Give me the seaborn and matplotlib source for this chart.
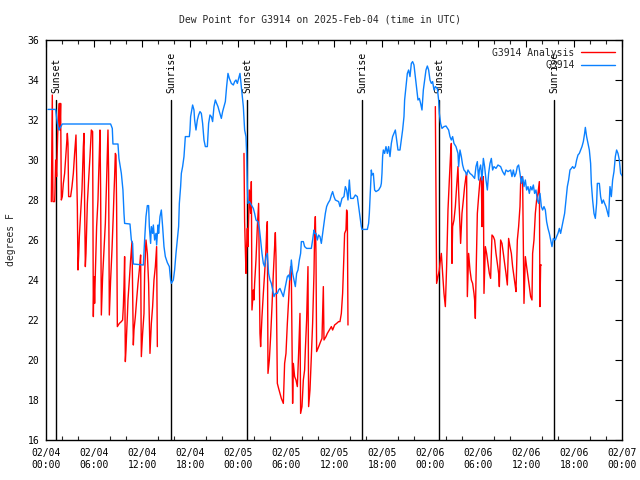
import numpy as np
import pandas as pd
import matplotlib
matplotlib.use("Agg")
import matplotlib.pyplot as plt
import seaborn as sns
from matplotlib.lines import Line2D

nan = float("nan")

# hours since 2025-02-04 00:00 UTC
obs_hours = [0.21, 1.17, 1.38, 1.58, 2.0, 8.04, 8.25, 8.33, 8.96, 9.08, 9.38, 9.58, 9.71, 9.79, 10.46, 10.63,
             10.79, 10.88, 12.13, 12.29, 12.46, 12.63, 12.79, 12.88, 13.04, 13.13, 13.29, 13.38, 13.54, 13.71,
             13.79, 13.96, 14.04, 14.21, 14.38, 14.54, 14.71, 14.88, 15.13, 15.38, 15.54, 15.63, 15.88, 16.04,
             16.21, 16.38, 16.54, 16.63, 16.79, 16.88, 17.04, 17.21, 17.38, 17.88, 17.96, 18.04, 18.29, 18.46,
             18.54, 18.71, 18.88, 19.04, 19.21, 19.38, 19.54, 19.71, 19.88, 20.13, 20.29, 20.46, 20.63, 20.79,
             20.96, 21.13, 21.29, 21.46, 21.63, 21.88, 22.04, 22.21, 22.38, 22.54, 22.71, 22.88, 23.13, 23.38,
             23.54, 23.71, 23.88, 24.04, 24.21, 24.38, 24.54, 24.63, 24.79, 24.96, 25.04, 25.13, 25.21, 25.38,
             25.63, 25.88, 26.04, 26.21, 26.46, 26.63, 26.79, 26.96, 27.13, 27.29, 27.46, 27.63, 27.79, 27.96,
             28.13, 28.29, 28.46, 28.63, 28.88, 29.04, 29.21, 29.46, 29.63, 29.79, 29.96, 30.13, 30.29, 30.46,
             30.63, 30.79, 30.96, 31.13, 31.21, 31.29, 31.46, 31.63, 31.79, 31.88, 32.13, 32.29, 32.54, 33.13,
             33.29, 33.46, 33.54, 33.71, 33.88, 34.04, 34.21, 34.38, 34.54, 34.71, 34.88, 35.04, 35.21, 35.46,
             35.63, 35.79, 35.96, 36.13, 36.54, 36.71, 36.96, 37.21, 37.38, 37.54, 37.71, 37.88, 38.04, 38.38,
             38.63, 38.88, 39.04, 39.21, 39.38, 39.46, 40.13, 40.29, 40.38, 40.46, 40.54, 40.63, 40.71, 40.88,
             41.04, 41.21, 41.54, 41.79, 41.88, 41.96, 42.04, 42.13, 42.29, 42.46, 42.63, 42.79, 42.96, 43.13,
             43.29, 43.46, 43.63, 43.79, 43.96, 44.21, 44.38, 44.54, 44.71, 44.79, 44.96, 45.13, 45.29, 45.46,
             45.63, 45.79, 45.96, 46.13, 46.29, 46.46, 46.63, 46.79, 46.96, 47.13, 47.29, 47.46, 47.63, 47.79,
             47.96, 48.13, 48.29, 48.46, 48.63, 48.88, 49.04, 49.13, 49.29, 49.46, 49.71, 49.96, 50.29, 50.46,
             50.63, 50.79, 50.96, 51.21, 51.46, 51.54, 51.71, 51.88, 52.04, 52.21, 52.38, 52.54, 52.71, 52.96,
             53.21, 53.54, 53.71, 53.88, 54.04, 54.13, 54.29, 54.46, 54.63, 54.79, 54.96, 55.13, 55.29, 55.46,
             55.63, 55.79, 55.96, 56.21, 56.46, 56.79, 57.04, 57.29, 57.46, 57.71, 58.04, 58.21, 58.38, 58.54,
             58.71, 58.88, 59.04, 59.21, 59.38, 59.54, 59.71, 59.88, 60.04, 60.21, 60.38, 60.54, 60.71, 60.88,
             61.04, 61.21, 61.38, 61.54, 61.71, 61.88, 62.04, 62.21, 62.38, 62.54, 62.71, 62.88, 63.04, 63.21,
             63.38, 63.63, 63.79, 63.96, 64.13, 64.29, 64.46, 64.63, 64.79, 64.96, 65.13, 65.29, 65.46, 65.63,
             65.79, 65.96, 66.13, 66.29, 66.46, 66.63, 66.79, 66.96, 67.13, 67.29, 67.38, 67.54, 67.71, 67.88,
             68.04, 68.13, 68.29, 68.46, 68.63, 68.79, 68.88, 69.13, 69.29, 69.46, 69.63, 69.79, 69.96, 70.13,
             70.29, 70.46, 70.63, 70.79, 70.96, 71.13, 71.29, 71.46, 71.63, 71.79, 72.0]
obs_dewpt = [32.53, 32.53, 31.83, 31.5, 31.8, 31.8, 31.58, 30.8, 30.8, 30.08, 29.33, 28.5, 27.33, 26.83, 26.8, 26.0,
             25.83, 24.8, 24.75, 26.0, 27.17, 27.72, 27.72, 26.67, 25.83, 26.67, 26.33, 26.75, 26.0, 26.33,
             25.75, 26.75, 26.33, 27.17, 27.5, 26.67, 25.67, 25.17, 24.87, 24.67, 24.0, 23.83, 24.0, 24.5,
             25.33, 26.0, 26.67, 27.83, 28.67, 29.33, 29.67, 30.17, 31.17, 31.17, 31.5, 32.17, 32.75, 32.5,
             32.0, 31.5, 32.0, 32.25, 32.42, 32.33, 31.83, 31.0, 30.67, 30.67, 31.83, 32.25, 32.17, 31.92,
             32.67, 33.0, 32.83, 32.67, 32.42, 32.08, 32.42, 32.67, 32.92, 33.67, 34.33, 34.08, 33.83, 33.75,
             33.92, 34.0, 33.83, 34.08, 34.33, 33.67, 33.0, 32.67, 31.5, 31.17, 30.33, 28.67, 27.83, 27.92,
             27.75, 27.58, 27.33, 27.0, 26.92, 26.58, 26.0, 25.33, 24.83, 24.67, 25.17, 25.33, 24.33, 24.0,
             23.83, 23.5, 23.17, 23.33, 23.33, 23.5, 23.58, 23.33, 23.17, 23.5, 23.83, 24.17, 24.25, 24.0,
             25.0, 24.33, 24.0, 23.67, 24.0, 24.33, 24.5, 25.0, 25.33, 25.92, 25.92, 25.67, 25.58, 25.58,
             26.0, 26.5, 26.33, 26.33, 26.0, 26.25, 26.17, 25.83, 26.33, 26.83, 27.33, 27.67, 27.83, 28.0,
             28.25, 28.42, 28.17, 28.0, 27.92, 27.67, 28.08, 28.17, 28.67, 28.5, 28.0, 29.0, 28.08, 28.08,
             28.25, 28.17, 27.67, 27.17, 26.67, 26.53, 26.53, 26.83, 27.33, 28.0, 28.67, 29.5, 29.25, 29.33,
             28.5, 28.42, 28.5, 28.67, 28.83, 29.33, 30.17, 30.5, 30.33, 30.67, 30.33, 30.67, 30.17, 30.83,
             31.17, 31.33, 31.5, 31.0, 30.5, 30.5, 31.0, 31.5, 32.17, 33.0, 33.67, 34.33, 34.5, 34.17,
             34.83, 34.92, 34.75, 34.17, 33.67, 33.0, 33.08, 32.83, 32.5, 33.5, 34.0, 34.5, 34.7, 34.5,
             34.0, 33.83, 33.92, 33.5, 33.67, 33.58, 33.0, 32.33, 31.83, 31.58, 31.67, 31.7, 31.5, 31.17,
             31.0, 31.17, 30.83, 30.67, 30.33, 29.67, 30.5, 30.17, 29.75, 29.5, 29.42, 29.25, 29.5, 29.33,
             29.25, 29.08, 29.67, 29.92, 29.0, 29.5, 29.75, 29.0, 30.08, 29.67, 29.0, 28.5, 29.33, 29.83,
             30.08, 29.5, 29.67, 29.58, 29.75, 29.67, 29.42, 29.25, 29.5, 29.42, 29.5, 29.17, 29.5, 29.17,
             29.33, 29.67, 29.75, 29.33, 28.83, 29.17, 28.67, 29.0, 28.5, 28.67, 28.33, 28.67, 28.5, 28.75,
             28.33, 28.5, 28.0, 27.83, 28.33, 27.67, 27.5, 27.67, 27.5, 26.92, 26.58, 26.33, 26.0, 25.67,
             26.08, 26.0, 26.17, 26.33, 26.58, 26.33, 26.67, 27.0, 27.33, 28.0, 28.67, 29.0, 29.5, 29.58,
             29.67, 29.58, 29.67, 30.0, 30.25, 30.33, 30.5, 30.67, 30.92, 31.33, 31.63, 31.17, 30.83, 30.5,
             29.83, 28.83, 28.0, 27.33, 27.08, 27.83, 28.83, 28.83, 28.17, 27.83, 28.0, 27.83, 27.67, 27.42,
             27.17, 28.67, 28.17, 29.0, 29.42, 30.17, 30.5, 30.33, 30.0, 29.33, 29.2]

ana_hours = [0.63, 0.75, 0.83, 1.04, 1.08, 1.17, 1.29, 1.42, 1.54, 1.63, 1.71, 1.79, 1.88, 2.0, 2.13, 2.29, 2.46,
             2.63, 2.71, 2.79, 3.04, 3.21, 3.38, 3.54, 3.71, 3.79, 3.88, 3.96, 4.04, 4.13, 4.29, 4.46, 4.54,
             4.63, 4.71, 4.79, 4.88, 4.96, 5.04, 5.13, 5.29, 5.46, 5.63, 5.79, 5.88, 5.96, 6.04, 6.13, 6.21,
             6.29, 6.46, 6.54, 6.63, 6.71, 6.79, 6.88, 7.04, 7.21, 7.38, 7.54, 7.71, 7.79, 7.88, 8.04, 8.21,
             8.38, 8.46, 8.54, 8.63, 8.71, 8.79, 8.88, 9.13, 9.38, 9.54, 9.63, 9.71, 9.79, 9.88, 9.96, 10.04,
             10.13, 10.21, 10.38, 10.54, 10.71, 10.88, 10.96, 11.13, 11.29, 11.46, 11.63, 11.79, 11.88, 12.04,
             12.21, 12.29, 12.38, 12.46, 12.63, 12.79, 12.96, 13.13, 13.29, 13.46, 13.63, 13.79, 13.88,
             19.0,
             24.71, 24.79, 24.96, 25.04, 25.13, 25.21, 25.38, 25.54, 25.63, 25.71, 25.88, 25.96, 26.04, 26.21,
             26.38, 26.54, 26.63, 26.71, 26.79, 26.96, 27.13, 27.29, 27.46, 27.54, 27.63, 27.71, 27.88, 28.04,
             28.21, 28.38, 28.54, 28.63, 28.71, 28.88, 29.04, 29.21, 29.38, 29.63, 29.79, 29.96, 30.13, 30.29,
             30.46, 30.54, 30.63, 30.79, 30.88, 31.04, 31.21, 31.38, 31.54, 31.71, 31.79, 31.96, 32.13, 32.29,
             32.38, 32.54, 32.71, 32.79, 32.96, 33.13, 33.29, 33.46, 33.54, 33.63, 33.71, 33.79, 33.96, 34.13,
             34.29, 34.46, 34.63, 34.71, 34.96, 35.13, 35.38, 35.63, 35.79, 36.04, 36.29, 36.54, 36.71, 36.88,
             37.04, 37.21, 37.29, 37.46, 37.54, 37.63, 37.71,
             43.0,
             48.63, 48.71, 48.79, 48.96, 49.13, 49.21, 49.38, 49.54, 49.71, 49.88, 50.04, 50.21, 50.38, 50.54,
             50.63, 50.71, 50.79, 50.96, 51.13, 51.29, 51.46, 51.54, 51.71, 51.79, 51.96, 52.13, 52.29, 52.46,
             52.54, 52.63, 52.79, 52.96, 53.13, 53.29, 53.46, 53.54, 53.63, 53.71, 53.88, 54.04, 54.21, 54.38,
             54.46, 54.54, 54.63, 54.71, 54.88, 55.04, 55.21, 55.38, 55.54, 55.71, 55.88, 56.04, 56.21, 56.38,
             56.54, 56.63, 56.79, 56.96, 57.13, 57.29, 57.46, 57.63, 57.79, 57.96, 58.13, 58.29, 58.46, 58.63,
             58.71, 58.88, 59.04, 59.21, 59.29, 59.46, 59.54, 59.71, 59.88, 60.04, 60.21, 60.38, 60.54, 60.71,
             60.79, 60.96, 61.13, 61.29, 61.46, 61.63, 61.71, 61.79, 61.88]
ana_dewpt = [27.92, 33.25, 27.92, 27.92, 28.33, 30.0, 29.17, 31.25, 32.33, 32.83, 31.5, 32.83, 28.0, 28.17, 28.83,
             29.33, 30.33, 31.33, 30.83, 28.17, 28.17, 28.67, 29.33, 30.33, 31.25, 29.5, 27.67, 24.5, 25.17,
             26.17, 27.33, 28.5, 29.5, 30.67, 31.33, 27.83, 24.67, 25.33, 26.5, 27.83, 29.0, 30.17, 31.5,
             31.42, 22.17, 24.17, 22.83, 24.33, 25.5, 26.67, 28.0, 29.17, 30.33, 31.5, 28.5, 22.25, 24.17,
             25.5, 26.83, 29.0, 31.5, 29.33, 22.25, 24.0, 25.5, 27.33, 28.33, 29.17, 30.33, 30.25, 27.67,
             21.67, 21.83, 21.92, 22.0, 22.67, 23.67, 25.17, 19.92, 20.5, 21.33, 22.17, 23.0, 24.0, 25.0,
             25.92, 20.75, 21.5, 22.17, 23.0, 23.83, 24.5, 25.25, 20.17, 21.33, 22.33, 24.33, 25.25, 26.0,
             25.33, 23.83, 20.33, 21.83, 22.67, 24.0, 24.67, 25.67, 20.67,
             nan,
             30.33, 26.92, 24.33, 25.67, 26.58, 25.67, 28.5, 27.33, 28.92, 22.5, 23.5, 23.0, 23.83, 25.0,
             26.67, 27.83, 24.33, 21.33, 20.67, 22.17, 23.33, 24.33, 25.5, 26.42, 26.92, 19.33, 20.0, 21.17,
             22.67, 24.33, 25.67, 26.37, 25.17, 18.83, 18.58, 18.33, 18.08, 17.83, 19.83, 20.33, 21.83, 23.0,
             24.33, 24.67, 24.33, 17.83, 19.83, 19.17, 19.0, 18.67, 20.33, 22.33, 17.33, 17.67, 19.0, 19.5,
             20.5, 22.0, 24.67, 17.67, 18.5, 20.17, 21.83, 24.33, 26.33, 27.17, 25.33, 20.42, 20.58, 20.75,
             20.92, 21.08, 23.67, 21.0, 21.17, 21.33, 21.5, 21.67, 21.5, 21.75, 21.83, 21.92, 21.92, 22.33,
             23.33, 25.33, 26.33, 26.5, 27.5, 27.33, 21.75,
             nan,
             32.67, 28.33, 23.83, 24.17, 24.5, 24.83, 25.33, 24.33, 23.33, 22.67, 24.67, 27.5, 29.0, 30.33,
             30.83, 24.83, 26.67, 27.0, 27.67, 28.67, 29.67, 28.5, 26.67, 25.83, 27.33, 28.0, 28.67, 29.17,
             29.33, 23.17, 25.33, 24.5, 24.0, 23.83, 23.33, 23.0, 22.08, 24.0, 27.33, 28.17, 29.0, 29.17,
             26.67, 27.67, 29.17, 23.33, 25.67, 25.33, 24.83, 24.33, 24.08, 26.25, 26.17, 26.0, 25.33, 24.83,
             24.33, 23.67, 26.0, 25.83, 25.33, 24.83, 24.33, 23.75, 26.08, 25.67, 25.33, 24.67, 24.17, 23.67,
             23.42, 26.0, 26.67, 27.67, 28.83, 29.17, 29.0, 22.83, 25.17, 24.67, 24.17, 23.67, 23.17, 23.0,
             25.33, 26.0, 27.33, 28.0, 28.33, 28.92, 22.67, 24.75, 24.75]

sun_hours = [1.17, 15.55, 25.1, 39.5, 49.1, 63.4]
sun_labels = ["Sunset", "Sunrise", "Sunset", "Sunrise", "Sunset", "Sunrise"]
sun_line_top = 33.0

xtick_hours = [0, 6, 12, 18, 24, 30, 36, 42, 48, 54, 60, 66, 72]
xtick_labels = ["02/04\n00:00", "02/04\n06:00", "02/04\n12:00", "02/04\n18:00",
                "02/05\n00:00", "02/05\n06:00", "02/05\n12:00", "02/05\n18:00",
                "02/06\n00:00", "02/06\n06:00", "02/06\n12:00", "02/06\n18:00",
                "02/07\n00:00"]

RED = "#ff0000"
BLUE = "#0a80ff"

sns.set_style("white")
plt.rcParams["font.family"] = ["DejaVu Sans Mono"]
plt.rcParams["font.size"] = 7

fig = plt.figure(figsize=(6.4, 4.8), dpi=100)
ax = fig.add_axes([46.3 / 640, 40 / 480, 576 / 640, 400 / 480])

# sunrise / sunset markers
for h, lab in zip(sun_hours, sun_labels):
    ax.plot([h, h], [16, sun_line_top], color="black", lw=1.0, zorder=1)
    ax.text(h + 0.05, sun_line_top + 0.35, lab, rotation=90, ha="center", va="bottom",
            fontsize=7, color="black")

ana_df = pd.DataFrame({"hours": ana_hours, "dewpt": ana_dewpt})
seg = np.cumsum(ana_df["dewpt"].isna().astype(int))
ana_df["seg"] = seg
ana_df = ana_df.dropna()
obs_df = pd.DataFrame({"hours": obs_hours, "dewpt": obs_dewpt})

sns.lineplot(data=ana_df, x="hours", y="dewpt", units="seg", estimator=None, sort=False,
             color=RED, lw=1.0, ax=ax, zorder=3)
sns.lineplot(data=obs_df, x="hours", y="dewpt", sort=False, estimator=None,
             color=BLUE, lw=1.0, ax=ax, zorder=4)

ax.set_xlim(0, 72)
ax.set_ylim(16, 36)
ax.set_xticks(xtick_hours)
ax.set_xticklabels(xtick_labels)
ax.set_xticks(np.arange(0, 73, 2), minor=True)
ax.set_yticks(np.arange(16, 37, 2))
ax.tick_params(axis="both", which="major", direction="in", length=5, width=0.8,
               top=True, right=True, labelsize=7, color="black", labelcolor="black")
ax.tick_params(axis="x", which="minor", direction="in", length=3, width=0.8, top=True, bottom=True)
ax.tick_params(axis="x", which="major", pad=6)
ax.tick_params(axis="y", which="major", pad=5)
for s in ax.spines.values():
    s.set_color("black")
    s.set_linewidth(1.0)
ax.set_xlabel("")
ax.set_ylabel("degrees F", fontsize=7, labelpad=8)

handles = [Line2D([0], [0], color=RED, lw=1.0), Line2D([0], [0], color=BLUE, lw=1.0)]
leg = ax.legend(handles, ["G3914 Analysis", "G3914"], loc="upper right", markerfirst=False,
                frameon=False, fontsize=7, handlelength=3.4, handletextpad=0.7,
                labelspacing=0.25, borderaxespad=0.4)
for t in leg.get_texts():
    t.set_ha("right")

fig.text(0.5, 1 - 19 / 480, "Dew Point for G3914 on 2025-Feb-04 (time in UTC)",
         ha="center", va="center", fontsize=7)

fig.savefig("out.png", dpi=100)
